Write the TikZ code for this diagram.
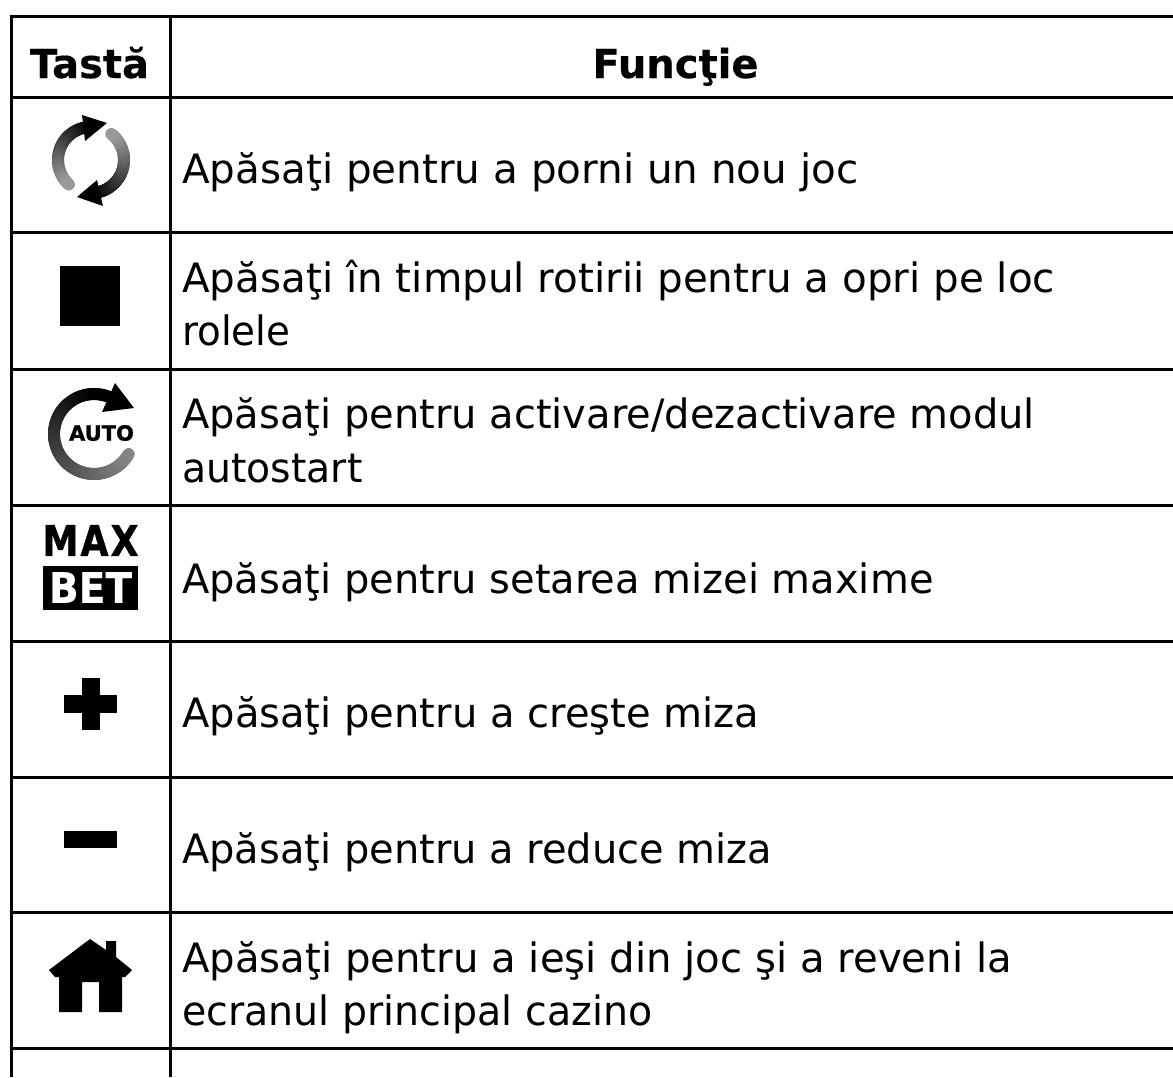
\documentclass[tikz,border=0pt]{standalone}
\usepackage{fontspec}
\setmainfont{DejaVu Sans}
\newfontfamily\headfont[FakeBold=0.4]{DejaVu Sans Bold}
\newfontfamily\iconfont[FakeBold=1.2]{DejaVu Sans Bold}
\newfontfamily\iconspaced[FakeBold=1.2,LetterSpace=6]{DejaVu Sans Bold}
\begin{document}
\begin{tikzpicture}[x=1pt,y=-1pt,
  rule/.style={line width=3pt,black,line cap=butt},
  celltext/.style={anchor=base west,inner sep=0pt,align=left,text=black,transform shape,font=\fontsize{40.45}{53}\selectfont},
  headtext/.style={anchor=base,inner sep=0pt,text=black,font=\headfont\fontsize{40}{45}\selectfont},
  icon/.style={fill=black,draw=none},
  iconword/.style={inner sep=0pt,transform shape}]
\useasboundingbox (0,0) rectangle (1173,1077);
% table rules
\foreach \yy in {16,97,232,369,505,641,777,912,1048}
  \draw[rule] (9.5,\yy) -- (1173,\yy);
\draw[rule] (11,14.5) -- (11,1077);
\draw[rule] (170,14.5) -- (170,1077);
% header
\node[headtext] (h1) at (89.5,78) {Tastă};
\node[headtext] (h2) at (675.5,78) {Funcţie};
% texts
\node[celltext] (t1) at (182,183) {Apăsaţi pentru a porni un nou joc};
\node[celltext] (t2a) at (182,292) {Apăsaţi în timpul rotirii pentru a opri pe loc};
\node[celltext,xscale=.96] (t2b) at (182,345) {rolele};
\node[celltext,xscale=.988] (t3a) at (182,428) {Apăsaţi pentru activare/dezactivare modul};
\node[celltext,xscale=.973] (t3b) at (182,482) {autostart};
\node[celltext,xscale=.988] (t4) at (182,593) {Apăsaţi pentru setarea mizei maxime};
\node[celltext,xscale=.99] (t5) at (182,727) {Apăsaţi pentru a creşte miza};
\node[celltext,xscale=.988] (t6) at (182,863) {Apăsaţi pentru a reduce miza};
\node[celltext,xscale=.994] (t7a) at (182,972) {Apăsaţi pentru a ieşi din joc şi a reveni la};
\node[celltext,xscale=.977] (t7b) at (182,1025) {ecranul principal cazino};
% refresh icon
\foreach \a in {100,104,...,224}{
  \pgfmathsetmacro{\g}{min(60,(\a-100)*60/124)}
  \draw[line width=12pt,color=white!\g!black,line cap=round] ({91+33*cos(\a)},{160-33*sin(\a)}) -- ({91+33*cos(\a+4)},{160-33*sin(\a+4)});
}
\foreach \a in {280,284,...,408}{
  \pgfmathsetmacro{\g}{min(60,(\a-280)*60/128)}
  \draw[line width=12pt,color=white!\g!black,line cap=round] ({91+33*cos(\a)},{160-33*sin(\a)}) -- ({91+33*cos(\a+4)},{160-33*sin(\a+4)});
}
\fill[icon] (107,123) -- (82,115) -- (85,141) -- cycle;
\fill[icon] (77,197) -- (103,206) -- (97,180) -- cycle;
% stop icon
\fill[icon] (60,266) rectangle (120,326);
% auto icon
\foreach \a in {66,70,...,326}{
  \pgfmathsetmacro{\g}{min(52,max(0,(\a-100)*52/226))}
  \draw[line width=12pt,color=white!\g!black,line cap=round] ({94+40*cos(\a)},{434-40*sin(\a)}) -- ({94+40*cos(\a+4)},{434-40*sin(\a+4)});
}
\fill[icon] (134,408) -- (115,383) -- (102,412) -- cycle;
\node[inner sep=0pt,font=\iconfont\fontsize{21}{21}\selectfont] (auto) at (101.5,433) {AUTO};
% max bet icon
\node[iconword,xscale=.86,font=\iconspaced\fontsize{42}{42}\selectfont] (max) at (90.5,540.5) {MAX};
\fill[icon] (43,566) rectangle (138,610);
\node[iconword,text=white,xscale=.93,font=\headfont\fontsize{42}{42}\selectfont] (bet) at (90.5,587.5) {BET};
% plus icon
\fill[icon] (64,695) rectangle (117,713);
\fill[icon] (82,678) rectangle (100,730);
% minus icon
\fill[icon] (64,831) rectangle (117,848);
% home icon
\fill[icon] (90,939) -- (106,950) -- (106,941) -- (116,941) -- (116,957) -- (132,970) -- (125,977) -- (122,977) -- (122,1012) -- (99,1012) -- (99,982) -- (82,982) -- (82,1012) -- (59,1012) -- (59,977) -- (55,977) -- (49,970) -- cycle;
\end{tikzpicture}
\end{document}
